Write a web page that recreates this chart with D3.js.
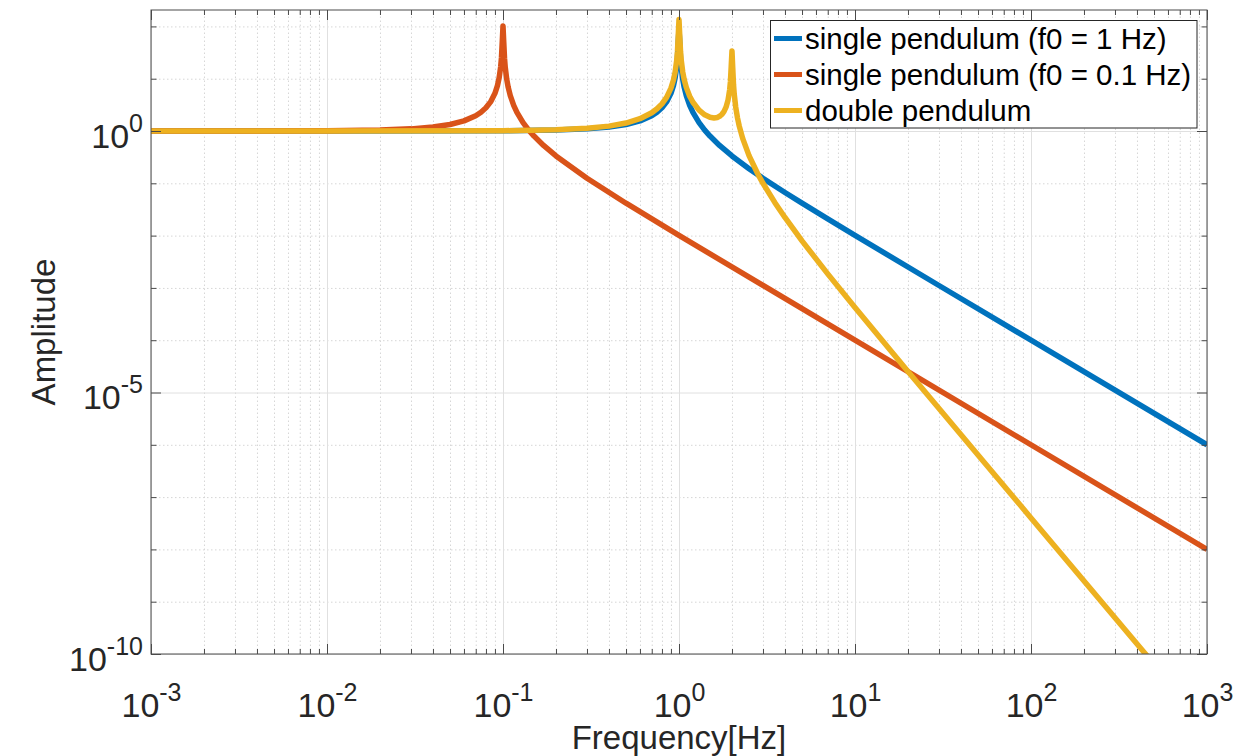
<!DOCTYPE html>
<html><head><meta charset="utf-8">
<script src="https://cdn.jsdelivr.net/npm/d3@7"></script>
<style>
html,body{margin:0;padding:0;background:#fff;}
svg{display:block;font-family:"Liberation Sans",Arial,Helvetica,sans-serif;}
</style></head><body>
<svg id="chart" width="1239" height="756"></svg>
<script>
// ---------- data ----------
const seriesNames = ["single pendulum (f0 = 1 Hz)", "single pendulum (f0 = 0.1 Hz)", "double pendulum"];
const seriesColors = ["#0072BD", "#D95319", "#EDB120"];

const freqBlue = [0.001,0.01,0.1,0.2,0.3,0.4,0.5,0.6,0.7,0.75,0.8,0.85,0.9,0.93,0.95,0.97,0.98,0.99,1.0,1.01,1.02,1.03,1.05,1.07,1.1,1.15,1.2,1.3,1.4,1.5,1.7,2,2.5,3,4,5,7,10,30,100,1000];
const ampBlue  = [1,1.0001,1.0101,1.0417,1.0989,1.1905,1.3333,1.5625,1.9608,2.2857,2.7778,3.6036,5.2632,7.4019,10.256,16.92,25.25,50.25,90,49.75,24.75,16.42,9.756,6.901,4.762,3.101,2.273,1.449,1.0417,0.8,0.5291,0.3333,0.1905,0.125,0.06667,0.04167,0.02083,0.0101,0.001112,1.0001e-4,1e-6];

const freqRed = [0.001,0.01,0.02,0.03,0.04,0.05,0.06,0.07,0.075,0.08,0.085,0.09,0.093,0.095,0.097,0.098,0.099,0.1,0.101,0.102,0.103,0.105,0.107,0.11,0.115,0.12,0.13,0.14,0.15,0.17,0.2,0.3,0.5,1,10,1000];
const ampRed  = [1.0001,1.0101,1.0417,1.0989,1.1905,1.3333,1.5625,1.9608,2.2857,2.7778,3.6036,5.2632,7.4019,10.256,16.92,25.25,50.25,102,49.75,24.75,16.42,9.756,6.901,4.762,3.101,2.273,1.449,1.0417,0.8,0.5291,0.3333,0.125,0.04167,0.0101,1.0001e-4,1e-8];

const freqYellow = [0.001,0.01,0.1,0.2,0.3,0.4,0.5,0.6,0.7,0.75,0.8,0.85,0.9,0.93,0.95,0.97,0.98,0.99,1.0,1.01,1.02,1.03,1.05,1.07,1.1,1.15,1.2,1.3,1.4,1.5,1.58,1.65,1.7,1.75,1.8,1.85,1.9,1.94,1.96,1.98,2.0,2.02,2.04,2.06,2.1,2.15,2.2,2.3,2.5,2.8,3,3.5,4,5,7,10,20,50,100,500,1000];
const ampYellow  = [1,1.0001,1.0126,1.0522,1.1242,1.2401,1.4222,1.7170,2.2345,2.6597,3.3069,4.3980,6.5996,9.444,13.245,22.125,33.23,66.56,135,66.78,33.45,22.35,13.468,9.669,6.827,4.632,3.551,2.5096,2.0425,1.8286,1.7778,1.8178,1.9067,2.0687,2.3496,2.8592,3.9297,6.1226,8.887,17.207,34,16.151,7.829,5.0623,2.861,1.7738,1.2401,0.7228,0.33862,0.15229,0.1,0.043098,0.022222,0.0079365,0.0018519,4.2088e-4,2.5316e-5,6.4128e-7,4.002e-8,6.4e-11,4.0e-12];

const xDomain = [1e-3, 1e3];
const yDomain = [1e-10, 206];
const xTickVals = [1e-3,1e-2,1e-1,1e0,1e1,1e2,1e3];
const xTickExps = ["-3","-2","-1","0","1","2","3"];
const yTickVals = [1e-10,1e-5,1e0];
const yTickExps = ["-10","-5","0"];
const xLabel = "Frequency[Hz]";
const yLabel = "Amplitude";

// ---------- layout ----------
const plot = {left:151, top:10, right:1207, bottom:654};
const pw = plot.right - plot.left, ph = plot.bottom - plot.top;
const textColor = "#262626";

const x = d3.scaleLog().domain(xDomain).range([plot.left, plot.right]);
const y = d3.scaleLog().domain(yDomain).range([plot.bottom, plot.top]);

// minor tick positions
const xMinor = [];
for (let e = -3; e < 3; e++) for (let k = 2; k <= 9; k++) xMinor.push(k * Math.pow(10, e));
const yDecades = [];
for (let e = -10; e <= 2; e++) yDecades.push(Math.pow(10, e));
const yMinorDec = yDecades.filter(v => !yTickVals.some(t => Math.abs(Math.log10(t) - Math.log10(v)) < 1e-6));

const svg = d3.select("#chart");
svg.append("rect").attr("width",1239).attr("height",756).attr("fill","#fff");

svg.append("defs").append("clipPath").attr("id","clip")
  .append("rect").attr("x",plot.left).attr("y",plot.top).attr("width",pw).attr("height",ph);

// ---------- grids ----------
function styleGrid(g, color, dash) {
  g.select(".domain").remove();
  g.selectAll(".tick text").remove();
  g.selectAll(".tick line").attr("stroke", color).attr("stroke-width", 1)
    .attr("stroke-dasharray", dash);
}
const gridMinorX = svg.append("g").attr("transform",`translate(0,${plot.bottom})`)
  .call(d3.axisBottom(x).tickValues(xMinor).tickSize(-ph).tickFormat(""));
styleGrid(gridMinorX, "#d6d6d6", "1.5,2.5");
const gridMinorY = svg.append("g").attr("transform",`translate(${plot.left},0)`)
  .call(d3.axisLeft(y).tickValues(yMinorDec).tickSize(-pw).tickFormat(""));
styleGrid(gridMinorY, "#d6d6d6", "1.5,2.5");
const gridMajorX = svg.append("g").attr("transform",`translate(0,${plot.bottom})`)
  .call(d3.axisBottom(x).tickValues(xTickVals).tickSize(-ph).tickFormat(""));
styleGrid(gridMajorX, "#e0e0e0", null);
const gridMajorY = svg.append("g").attr("transform",`translate(${plot.left},0)`)
  .call(d3.axisLeft(y).tickValues(yTickVals).tickSize(-pw).tickFormat(""));
styleGrid(gridMajorY, "#e0e0e0", null);

// ---------- lines ----------
const series = [
  {name: seriesNames[0], color: seriesColors[0], f: freqBlue, a: ampBlue},
  {name: seriesNames[1], color: seriesColors[1], f: freqRed, a: ampRed},
  {name: seriesNames[2], color: seriesColors[2], f: freqYellow, a: ampYellow}
];
const line = d3.line().x(d => x(d[0])).y(d => y(d[1]));
const gLines = svg.append("g").attr("clip-path","url(#clip)");
series.forEach(s => {
  const pts = s.f.map((f, i) => [f, s.a[i]]);
  gLines.append("path").datum(pts).attr("d", line)
    .attr("fill","none").attr("stroke", s.color).attr("stroke-width", 5.5)
    .attr("stroke-linejoin","round").attr("stroke-linecap","butt");
});

// ---------- axes ----------
const axisColor = "#4a4a4a";
function styleTicks(g) {
  g.select(".domain").remove();
  g.selectAll(".tick line").attr("stroke", axisColor).attr("stroke-width", 1);
}
function supLabels(g, vals, exps, opts) {
  g.selectAll(".tick text").each(function(d) {
    const idx = vals.findIndex(v => Math.abs(Math.log10(v) - Math.log10(d)) < 1e-6);
    const t = d3.select(this);
    t.text(null).attr("dy", null).attr("fill", textColor)
      .attr("font-size", 34).attr("font-family", '"Liberation Sans",Arial,Helvetica,sans-serif')
      .attr("text-anchor", opts.anchor).attr("x", opts.x).attr("y", opts.y);
    t.append("tspan").text("10");
    t.append("tspan").attr("dy", -16).attr("font-size", 25).text(exps[idx]);
  });
}
// bottom
const gxB = svg.append("g").attr("transform",`translate(0,${plot.bottom})`)
  .call(d3.axisBottom(x).tickValues(xTickVals).tickSize(-10).tickPadding(0).tickFormat(d => d));
styleTicks(gxB);
supLabels(gxB, xTickVals, xTickExps, {anchor:"middle", x:0, y:63});
const gxBm = svg.append("g").attr("transform",`translate(0,${plot.bottom})`)
  .call(d3.axisBottom(x).tickValues(xMinor).tickSize(-5).tickFormat(""));
styleTicks(gxBm);
// top
const gxT = svg.append("g").attr("transform",`translate(0,${plot.top})`)
  .call(d3.axisTop(x).tickValues(xTickVals).tickSize(-10).tickFormat(""));
styleTicks(gxT);
const gxTm = svg.append("g").attr("transform",`translate(0,${plot.top})`)
  .call(d3.axisTop(x).tickValues(xMinor).tickSize(-5).tickFormat(""));
styleTicks(gxTm);
// left
const gyL = svg.append("g").attr("transform",`translate(${plot.left},0)`)
  .call(d3.axisLeft(y).tickValues(yTickVals).tickSize(-10).tickPadding(0).tickFormat(d => d));
styleTicks(gyL);
supLabels(gyL, yTickVals, yTickExps, {anchor:"end", x:-8, y:16});
const gyLm = svg.append("g").attr("transform",`translate(${plot.left},0)`)
  .call(d3.axisLeft(y).tickValues(yMinorDec).tickSize(-5.5).tickFormat(""));
styleTicks(gyLm);
// right
const gyR = svg.append("g").attr("transform",`translate(${plot.right},0)`)
  .call(d3.axisRight(y).tickValues(yTickVals).tickSize(-10).tickFormat(""));
styleTicks(gyR);
const gyRm = svg.append("g").attr("transform",`translate(${plot.right},0)`)
  .call(d3.axisRight(y).tickValues(yMinorDec).tickSize(-5.5).tickFormat(""));
styleTicks(gyRm);

// box
svg.append("rect").attr("x", plot.left).attr("y", plot.top).attr("width", pw).attr("height", ph)
  .attr("fill","none").attr("stroke", axisColor).attr("stroke-width", 1);

// axis labels
svg.append("text").attr("x", (plot.left + plot.right) / 2).attr("y", 749)
  .attr("text-anchor","middle").attr("font-size", 33).attr("fill", textColor).text(xLabel);
svg.append("text").attr("transform", `translate(55,${(plot.top + plot.bottom) / 2}) rotate(-90)`)
  .attr("text-anchor","middle").attr("font-size", 33).attr("fill", textColor).text(yLabel);

// ---------- legend ----------
const lg = {x:770.5, y:20.5, w:426.5, h:107.5, row:36};
const gLeg = svg.append("g");
gLeg.append("rect").attr("x", lg.x).attr("y", lg.y).attr("width", lg.w).attr("height", lg.h)
  .attr("fill","#fff").attr("stroke", "#262626").attr("stroke-width", 1);
series.forEach((s, i) => {
  const cy = lg.y + 18 + i * lg.row;
  gLeg.append("line").attr("x1", lg.x + 3.5).attr("x2", lg.x + 31.5).attr("y1", cy).attr("y2", cy)
    .attr("stroke", s.color).attr("stroke-width", 5);
  gLeg.append("text").attr("x", lg.x + 34.5).attr("y", cy + 10).attr("font-size", 29.5)
    .attr("fill", "#000").text(s.name);
});
</script>
</body></html>
